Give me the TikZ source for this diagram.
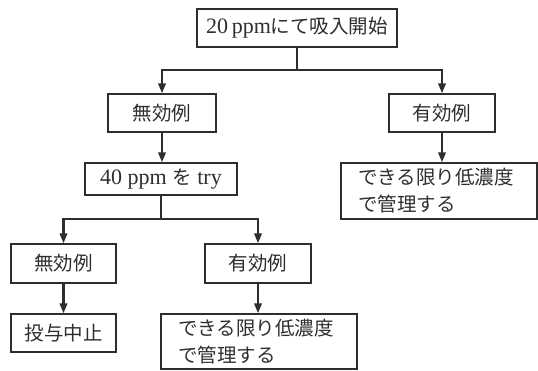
\documentclass[tikz,border=0pt]{standalone}
\usepackage{fontspec}
\setmainfont{Liberation Serif}
\newfontfamily\jp{Noto Sans CJK JP}
\usetikzlibrary{arrows.meta}
\definecolor{ink}{HTML}{2E2E2E}
\begin{document}
\begin{tikzpicture}[x=1pt,y=-1pt,
  box/.style={draw=ink,line width=1.4pt,text=ink,minimum height=38pt,inner sep=0pt,font=\fontsize{22}{24}\selectfont},
  tbox/.style={draw=ink,line width=1.4pt,text=ink,inner sep=0pt,font=\fontsize{19.5}{27}\selectfont,align=left,text width=162pt},
  arr/.style={draw=ink,line width=2.2pt,-{Triangle[length=10pt,width=7.5pt]}},
  ln/.style={draw=ink,line width=2.2pt}]
\newcommand\J[1]{{\jp\fontsize{19.5}{21}\selectfont #1}}
\useasboundingbox (0,0) rectangle (538,370);
\node[box,minimum width=200pt] (top) at (297,28) {20\,ppm\J{にて吸入開始}};
\node[box,minimum width=108pt] (n1) at (162,113) {\J{無効例}};
\node[box,minimum width=106pt] (y1) at (442,113) {\J{有効例}};
\node[box,minimum width=152pt,minimum height=32pt] (t40) at (161,179) {40 ppm \J{を} try};
\node[tbox,minimum width=196pt,minimum height=56pt] (r1) at (439,191) {\J{できる限り低濃度}\\\J{で管理する}};
\node[box,minimum width=105pt,minimum height=39pt] (n2) at (63.5,263.5) {\J{無効例}};
\node[box,minimum width=106pt,minimum height=39pt] (y2) at (258,263.5) {\J{有効例}};
\node[box,minimum width=105pt] (stop) at (63.5,333) {\J{投与中止}};
\node[tbox,minimum width=196pt,minimum height=55pt] (r2) at (259,341.5) {\J{できる限り低濃度}\\\J{で管理する}};
\coordinate (j1) at (297,70);
\coordinate (j2) at (161,219);
\draw[ln] (top.south) -- (j1);
\draw[arr] (j1) -| (n1.north);
\draw[arr] (j1) -| (y1.north);
\draw[arr] (n1.south) -- (n1.south |- t40.north);
\draw[arr] (y1.south) -- (y1.south |- r1.north);
\draw[ln] (t40.south) -- (j2);
\draw[arr] (j2) -| (n2.north);
\draw[arr] (j2) -| (y2.north);
\draw[arr] (n2.south) -- (stop.north);
\draw[arr] (y2.south) -- (y2.south |- r2.north);
\end{tikzpicture}
\end{document}
